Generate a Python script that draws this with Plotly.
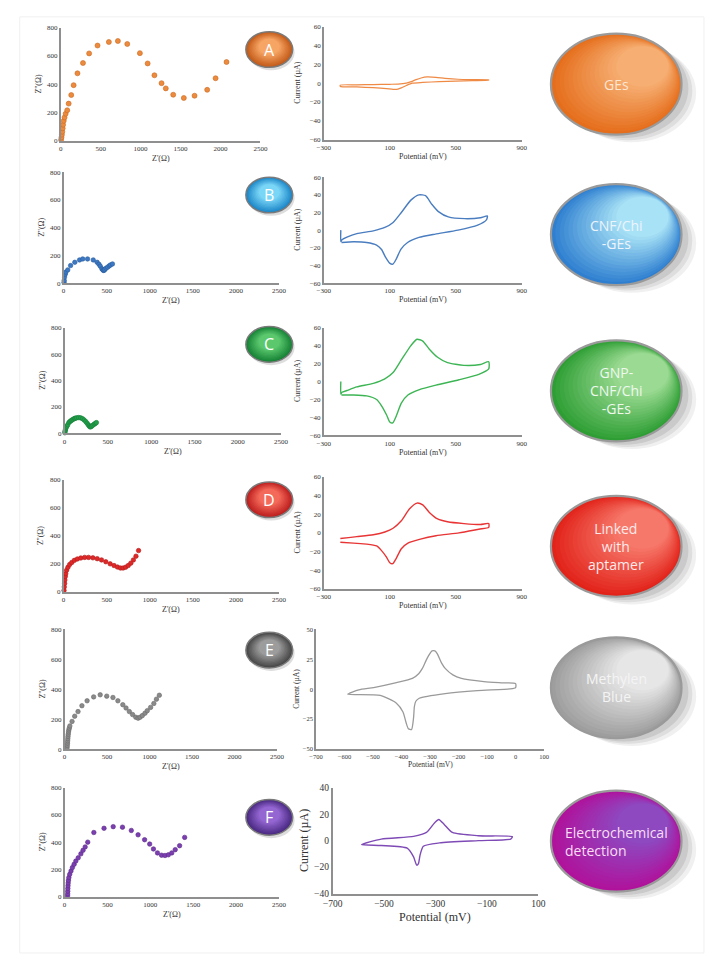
import plotly.graph_objects as go

W, H = 710, 956


def fx(p):
    return p / W


def fy(p):
    return 1 - p / H


# ---------------- Nyquist data (Z' , Z'') ----------------
a_re = [5, 10, 15, 20, 25, 30, 38, 48, 62, 82, 100, 132, 162, 210, 279, 356, 461, 603, 716, 833,
        991, 1088, 1173, 1262, 1315, 1408, 1541, 1675, 1833, 1938, 2075]
a_im = [5, 23, 42, 63, 87, 112, 140, 164, 190, 215, 262, 323, 393, 477, 550, 618, 674, 699, 706, 685,
        620, 547, 463, 407, 370, 325, 302, 318, 360, 442, 557]

b_re = [5, 7, 11, 19, 26, 48, 81, 130, 185, 222, 278, 344, 389, 410, 426, 444, 455, 463, 470, 478,
        493, 511, 530, 544, 567]
b_im = [5, 19, 43, 64, 79, 95, 126, 150, 167, 174, 174, 167, 150, 136, 122, 103, 96, 91, 92, 98,
        107, 115, 124, 131, 138]

c_re = [3, 5, 8, 12, 18, 26, 36, 49, 62, 75, 86, 100, 115, 124, 140, 162, 185, 207, 226, 244,
        260, 274, 285, 293, 302, 312, 326, 342, 355, 368]
c_im = [5, 15, 25, 35, 45, 55, 65, 82, 90, 97, 102, 108, 113, 115, 118, 120, 118, 112, 102, 90,
        78, 65, 57, 50, 50, 55, 62, 70, 76, 82]

d_re = [5, 8, 12, 15, 20, 25, 35, 50, 70, 95, 125, 160, 200, 245, 290, 340, 390, 440, 490, 540,
        585, 625, 660, 690, 720, 750, 780, 810, 840, 870]
d_im = [10, 35, 60, 85, 110, 130, 155, 175, 195, 210, 225, 235, 242, 246, 246, 243, 237, 228, 215, 200,
        188, 177, 170, 170, 176, 188, 205, 228, 255, 295]

e_re = [30, 32, 34, 36, 38, 40, 43, 46, 50, 55, 62, 88, 119, 158, 204, 265, 342, 419, 496, 569,
        627, 685, 723, 762, 800, 838, 865, 888, 915, 946, 973, 1012, 1050, 1081, 1115]
e_im = [10, 25, 40, 55, 70, 85, 100, 115, 128, 140, 155, 185, 220, 251, 290, 323, 349, 363, 354, 345,
        323, 297, 275, 251, 231, 213, 207, 213, 224, 240, 257, 279, 305, 334, 360]

f_re = [35, 36, 37, 38, 40, 42, 45, 50, 60, 75, 91, 111, 131, 159, 190, 215, 240, 270, 341, 460,
        567, 675, 778, 857, 933, 992, 1036, 1083, 1131, 1171, 1210, 1250, 1290, 1341, 1400]
f_im = [5, 20, 40, 60, 80, 100, 120, 140, 164, 188, 213, 237, 261, 285, 314, 340, 365, 400, 471, 502,
        514, 510, 486, 454, 418, 386, 350, 321, 304, 302, 307, 321, 345, 374, 435]

# ---------------- Cyclic voltammetry data (E in mV, I in uA) ----------------
a_cv_e = [-200, -100, 0, 100, 150, 200, 230, 260, 290, 326, 380, 435, 514, 600, 700,
          700, 600, 500, 400, 300, 237, 200, 170, 150, 120, 80, 0, -100, -200, -200]
a_cv_i = [-2.1, -1.8, -1.5, -1.2, -1.0, 0.0, 1.7, 3.8, 5.5, 6.6, 6.2, 5.2, 4.2, 3.8, 3.5,
          3.2, 2.7, 2.2, 1.6, 0.8, 0.0, -2.5, -5.0, -6.3, -6.6, -5.8, -4.8, -4.0, -3.5, -2.1]

b_cv_e = [-197, -197, -190, -160, -100, 0, 70, 120, 170, 228, 277, 317, 356, 395, 455, 555, 650, 692,
          686, 633, 514, 376, 277, 208, 168, 139, 119, 99, 75, 50, 20, -40, -120, -193]
b_cv_i = [0, -13, -11, -8, -4, -0.8, 3, 8.7, 20, 34, 40, 39, 29, 21, 15, 13, 14, 16,
          11.7, 5.7, 0, -4.5, -8.3, -14, -21.5, -32.8, -38.5, -37.4, -31, -22, -17, -14, -13.2, -14]

c_cv_e = [-197, -197, -190, -160, -100, 0, 70, 120, 170, 228, 265, 300, 340, 390, 450, 550, 650, 700,
          700, 640, 520, 380, 280, 210, 170, 140, 118, 100, 80, 50, 20, -40, -120, -193]
c_cv_i = [0, -14, -12, -10, -6, -2, 3, 10, 24, 40, 47, 45, 36, 27, 21, 18, 19, 22,
          14, 8, 2, -4, -9, -15, -24, -38, -46, -45, -37, -27, -20, -16, -15, -15]

d_cv_e = [-200, -150, -100, 0, 70, 120, 170, 220, 265, 300, 340, 390, 450, 550, 650, 700,
          700, 640, 520, 380, 280, 210, 170, 140, 118, 100, 80, 50, 20, -40, -120, -200]
d_cv_i = [-6, -5, -4, -2, 1, 5, 13, 26, 32, 30, 22, 15, 12, 10, 9, 10,
          6, 4, 0, -3, -7, -11, -17, -27, -33, -32, -26, -19, -14, -12, -11, -10]

e_cv_e = [-589, -550, -498, -418, -362, -340, -327, -310, -293, -283, -275, -260, -247, -220, -190,
          -111, -50, 0, 0, -20, -134, -247, -338, -350, -355, -358, -365, -376, -384, -395, -418,
          -475, -589]
e_cv_i = [-4.1, -0.5, 1.4, 5.5, 9.1, 13, 17.4, 26, 32, 32, 29.8, 22, 17.4, 12, 9.1,
          6.4, 5.4, 4.7, 1.4, 0.3, -1.1, -3.6, -7.5, -10, -14.4, -24, -33.7, -33, -28, -19, -11.6,
          -5.2, -4.1]

f_cv_e = [-587, -511, -385, -335, -303, -287, -266, -234, -133, -1, -7, -133, -284, -347, -360,
          -366, -373, -385, -410, -511, -587]
f_cv_i = [-3, 1.2, 3.2, 6.2, 13.6, 16, 12.3, 6.2, 3.7, 3, 1.2, 0, -1.7, -4.2, -11.1,
          -17.3, -18.5, -12.3, -5.7, -3.7, -3]

nyq_ticks_x = [0, 500, 1000, 1500, 2000, 2500]
nyq_ticks_y = [0, 200, 400, 600, 800]
cv_ticks_x = [-300, 100, 500, 900]
cv_ticks_y = [-60, -40, -20, 0, 20, 40, 60]
cv_e_ticks_x = [-700, -600, -500, -400, -300, -200, -100, 0, 100]
cv_e_ticks_y = [-50, -25, 0, 25, 50]
cv_f_ticks_x = [-700, -500, -300, -100, 100]
cv_f_ticks_y = [-40, -20, 0, 20, 40]

letters = ["A", "B", "C", "D", "E", "F"]
labels = ["GEs", "CNF/Chi<br>-GEs", "GNP-<br>CNF/Chi<br>-GEs", "Linked<br>with<br>aptamer",
          "Methylen<br>Blue", "Electrochemical<br>detection"]

SERIF = "Liberation Serif, Times New Roman, serif"

# pixel boxes: (x_left, x_right, y_top, y_bottom)
nyq = [
    dict(re=a_re, im=a_im, color="#EC8B3E", edge="#C96A22", size=5, box=(52, 257, 23, 137)),
    dict(re=b_re, im=b_im, color="#3C78C3", edge="#2C5E9E", size=4.5, box=(55, 276, 169, 281)),
    dict(re=c_re, im=c_im, color="#22A04A", edge="#17803A", size=4.5, box=(56, 278, 326, 433)),
    dict(re=d_re, im=d_im, color="#E02828", edge="#B01C1C", size=4.5, box=(55, 276, 480, 593)),
    dict(re=e_re, im=e_im, color="#8A8A8A", edge="#6A6A6A", size=4.5, box=(56, 274, 631, 752)),
    dict(re=f_re, im=f_im, color="#7B3FB0", edge="#5C2C8A", size=4.5, box=(56, 276, 791, 901)),
]
cvs = [
    dict(e=a_cv_e, i=a_cv_i, color="#EF8A45", lw=1.2, box=(322, 525, 22, 136), xr=[-300, 900],
         yr=[-60, 60], tx=cv_ticks_x, ty=cv_ticks_y, fs=7, tfs=8, tdy=17, tdx=27),
    dict(e=b_cv_e, i=b_cv_i, color="#4A7DC0", lw=1.4, box=(322, 525, 174, 281), xr=[-300, 900],
         yr=[-60, 60], tx=cv_ticks_x, ty=cv_ticks_y, fs=7, tfs=8, tdy=17, tdx=27),
    dict(e=c_cv_e, i=c_cv_i, color="#3DB554", lw=1.4, box=(322, 525, 326, 435), xr=[-300, 900],
         yr=[-60, 60], tx=cv_ticks_x, ty=cv_ticks_y, fs=7, tfs=8, tdy=17, tdx=27),
    dict(e=d_cv_e, i=d_cv_i, color="#E83434", lw=1.4, box=(322, 525, 477, 590), xr=[-300, 900],
         yr=[-60, 60], tx=cv_ticks_x, ty=cv_ticks_y, fs=7, tfs=8, tdy=17, tdx=27),
    dict(e=e_cv_e, i=e_cv_i, color="#9A9A9A", lw=1.3, box=(314, 548, 631, 752), xr=[-700, 100],
         yr=[-50, 50], tx=cv_e_ticks_x, ty=cv_e_ticks_y, fs=6.5, tfs=7.5, tdy=16, tdx=20),
    dict(e=f_cv_e, i=f_cv_i, color="#7E4AB5", lw=1.4, box=(331, 542, 791, 898), xr=[-700, 100],
         yr=[-40, 40], tx=cv_f_ticks_x, ty=cv_f_ticks_y, fs=9.5, tfs=12, tdy=24, tdx=30),
]

fig = go.Figure()
layout = {}
annotations = []
shapes = []

axis_common = dict(showgrid=False, zeroline=False, showline=True, linecolor="#8f8f8f", linewidth=1.6,
                   ticks="", tickfont=dict(family=SERIF, size=7, color="#333333"), fixedrange=True)


def label(x, y, text, font, angle=0, align="center"):
    return dict(x=fx(x), y=fy(y), xref="paper", yref="paper", text=text, showarrow=False,
                xanchor="center", yanchor="middle", textangle=angle, align=align, font=font)


n = 0
for k, p in enumerate(nyq):
    n += 1
    x0, x1, y0, y1 = p["box"]
    sfx = "" if n == 1 else str(n)
    layout["xaxis" + sfx] = dict(axis_common, domain=[fx(x0), fx(x1)], range=[0, 2500],
                                 tickvals=nyq_ticks_x, anchor="y" + sfx)
    layout["yaxis" + sfx] = dict(axis_common, domain=[fy(y1), fy(y0)], range=[0, 800],
                                 tickvals=nyq_ticks_y, anchor="x" + sfx)
    fig.add_trace(go.Scatter(x=p["re"], y=p["im"], mode="markers", cliponaxis=False,
                             marker=dict(size=p["size"], color=p["color"],
                                         line=dict(color=p["edge"], width=0.6)),
                             xaxis="x" + sfx, yaxis="y" + sfx, showlegend=False, hoverinfo="skip"))
    af = dict(family=SERIF, size=8, color="#333")
    annotations.append(label((x0 + x1) / 2, y1 + 18, "Z'(Ω)", af))
    annotations.append(label(x0 - 23, (y0 + y1) / 2, "Z''(Ω)", af, angle=-90))

for k, p in enumerate(cvs):
    n += 1
    x0, x1, y0, y1 = p["box"]
    sfx = str(n)
    tf = dict(family=SERIF, size=p["fs"], color="#333333")
    layout["xaxis" + sfx] = dict(axis_common, domain=[fx(x0), fx(x1)], range=p["xr"], tickvals=p["tx"],
                                 anchor="y" + sfx, tickfont=tf)
    layout["yaxis" + sfx] = dict(axis_common, domain=[fy(y1), fy(y0)], range=p["yr"], tickvals=p["ty"],
                                 anchor="x" + sfx, tickfont=tf)
    fig.add_trace(go.Scatter(x=p["e"], y=p["i"], mode="lines",
                             line=dict(color=p["color"], width=p["lw"], shape="spline", smoothing=0.6),
                             xaxis="x" + sfx, yaxis="y" + sfx, showlegend=False, hoverinfo="skip"))
    af = dict(family=SERIF, size=p["tfs"], color="#333")
    annotations.append(label((x0 + x1) / 2, y1 + p["tdy"], "Potential (mV)", af))
    annotations.append(label(x0 - p["tdx"], (y0 + y1) / 2, "Current (µA)", af, angle=-90))


def hex2rgb(h):
    h = h.lstrip("#")
    return tuple(int(h[i:i + 2], 16) for i in (0, 2, 4))


def mix(c1, c2, t):
    a, b = hex2rgb(c1), hex2rgb(c2)
    return "rgb(%d,%d,%d)" % tuple(round(a[i] + (b[i] - a[i]) * t) for i in range(3))


def ellipse(cx, cy, rx, ry, **kw):
    return dict(type="circle", xref="paper", yref="paper",
                x0=fx(cx - rx), x1=fx(cx + rx), y0=fy(cy + ry), y1=fy(cy - ry), **kw)


def shaded(cx, cy, rx, ry, c_dark, c_light, border, bw, steps=14, dxs=0.35, dys=0.35, shrink=0.8):
    out = [ellipse(cx, cy, rx, ry, fillcolor=c_dark, line=dict(width=0))]
    for s in range(1, steps):
        t = s / (steps - 1)
        out.append(ellipse(cx + rx * dxs * t, cy - ry * dys * t, rx * (1 - shrink * t),
                           ry * (1 - shrink * t), fillcolor=mix(c_dark, c_light, t), line=dict(width=0)))
    out.append(ellipse(cx, cy, rx, ry, fillcolor="rgba(0,0,0,0)", line=dict(color=border, width=bw)))
    return out


# faint page frame
shapes.append(dict(type="rect", xref="paper", yref="paper", x0=fx(10), x1=fx(712), y0=fy(958), y1=fy(12),
                   line=dict(color="#f0f0f0", width=1), fillcolor="rgba(0,0,0,0)", layer="below"))

# letter badges
badge_cy = [45, 192, 343, 500, 652, 821]
badge_cols = [("#C25A18", "#F7A565"), ("#1C86C8", "#7AD6F6"), ("#158236", "#5CC86E"),
              ("#BD1E1E", "#F46A5A"), ("#474747", "#9C9C9C"), ("#4A2A82", "#9466D2")]
for k in range(6):
    cx, cy = 266, badge_cy[k]
    shapes.append(ellipse(cx + 2, cy + 3, 24, 18, fillcolor="rgba(120,120,120,0.25)", line=dict(width=0)))
    shapes += shaded(cx, cy, 24, 18, badge_cols[k][0], badge_cols[k][1], "#7a7a7a", 1.5,
                     steps=10, dxs=0.0, dys=0.15, shrink=0.55)
    annotations.append(label(cx, cy, letters[k],
                             dict(family="Open Sans, sans-serif", size=16, color="#ffffff")))

# sample label discs
disc_cy = [80, 232, 390, 547, 690, 845]
disc_cols = [("#E56E1C", "#F6AE72"), ("#2F7FD0", "#A8E2F6"), ("#2E9E34", "#9ADA92"),
             ("#E2231A", "#F6786A"), ("#9E9E9E", "#E6E6E6"), ("#B0129C", "#8E48C0")]
text_cols = ["#FCE6D2", "#EEF4FB", "#EEF8EE", "#FDEAEA", "#F4F4F4", "#F8DDF3"]
for k in range(6):
    cx, cy = 622, disc_cy[k]
    for off, op in [(16, 0.10), (12, 0.14), (8, 0.18)]:
        shapes.append(ellipse(cx + off, cy + off * 0.55, 66, 50, fillcolor=f"rgba(110,110,110,{op})",
                              line=dict(width=0)))
    shapes += shaded(cx, cy, 67, 51, disc_cols[k][0], disc_cols[k][1], "#9a9a9a", 2.2,
                     steps=16, dxs=0.4, dys=0.35, shrink=0.6)
    align = "left" if k == 5 else "center"
    annotations.append(label(cx, cy, labels[k],
                             dict(family="Open Sans, sans-serif", size=14, color=text_cols[k]),
                             align=align))

layout.update(dict(width=W, height=H, margin=dict(l=0, r=0, t=0, b=0), paper_bgcolor="white",
                   plot_bgcolor="rgba(0,0,0,0)", showlegend=False, shapes=shapes,
                   annotations=annotations))
fig.update_layout(**layout)
fig.write_html("out.html")
